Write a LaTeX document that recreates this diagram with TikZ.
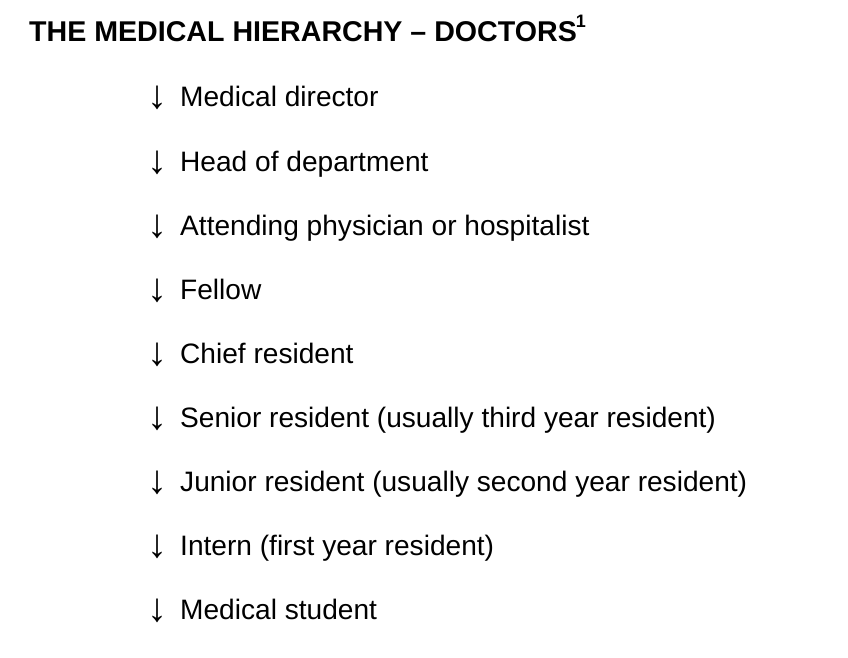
\documentclass[tikz,border=0pt]{standalone}
\usepackage{fontspec}
\setmainfont{Liberation Sans}
\begin{document}
\begin{tikzpicture}[x=1pt,y=-1pt,
  itemtext/.style={anchor=base west,inner sep=0pt,font=\fontsize{28.1}{30}\selectfont},
  arrowmark/.style={anchor=base,inner sep=0pt,font=\fontsize{40}{42}\selectfont},
  titletext/.style={anchor=base west,inner sep=0pt,font=\fontsize{28.6}{30}\selectfont\bfseries}]
\useasboundingbox[fill=white] (0,0) rectangle (848,658);
\node[titletext] (title) at (29,42) {THE MEDICAL HIERARCHY – DOCTORS\kern-1pt\raisebox{0.5em}{\fontsize{18}{18}\selectfont 1}};
\foreach \t [count=\i] in {Medical director,Head of department,Attending physician or hospitalist,Fellow,Chief resident,Senior resident (usually third year resident),Junior resident (usually second year resident),Intern (first year resident),Medical student}{
  \node[arrowmark] (a\i) at (157,{109+(\i-1)*64}) {↓};
  \node[itemtext] (t\i) at (180,{107+(\i-1)*64}) {\t};
}
\end{tikzpicture}
\end{document}
